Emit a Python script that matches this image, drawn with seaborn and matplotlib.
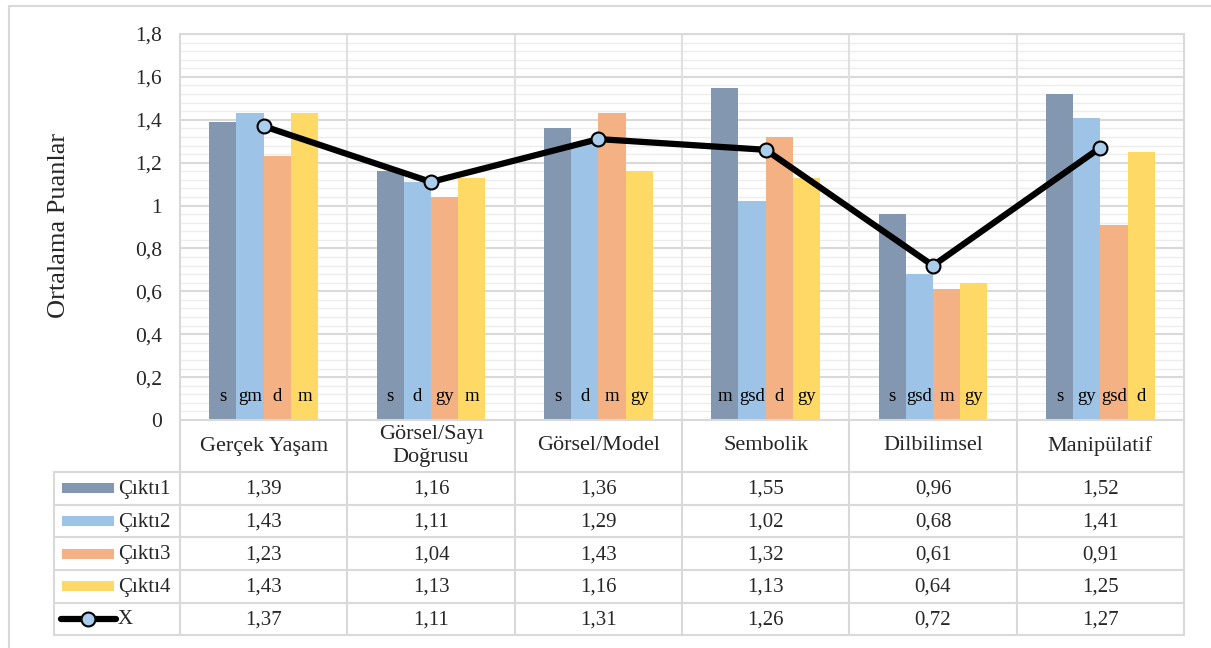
import numpy as np
import pandas as pd
import seaborn as sns
import matplotlib.pyplot as plt
from matplotlib.patches import Rectangle
from matplotlib.lines import Line2D

# data
categories = ["Gerçek Yaşam", "Görsel/Sayı\nDoğrusu", "Görsel/Model", "Sembolik", "Dilbilimsel", "Manipülatif"]
series = ["Çıktı1", "Çıktı2", "Çıktı3", "Çıktı4"]
cikti1 = [1.39, 1.16, 1.36, 1.55, 0.96, 1.52]
cikti2 = [1.43, 1.11, 1.29, 1.02, 0.68, 1.41]
cikti3 = [1.23, 1.04, 1.43, 1.32, 0.61, 0.91]
cikti4 = [1.43, 1.13, 1.16, 1.13, 0.64, 1.25]
x_mean = [1.37, 1.11, 1.31, 1.26, 0.72, 1.27]
bar_tags = [
    ["s", "gm", "d", "m"],
    ["s", "d", "gy", "m"],
    ["s", "d", "m", "gy"],
    ["m", "gsd", "d", "gy"],
    ["s", "gsd", "m", "gy"],
    ["s", "gy", "gsd", "d"],
]
colors = ["#8497B0", "#9DC3E6", "#F4B183", "#FFD966"]
grid_c = "#D9D9D9"

df = pd.DataFrame({
    "kategori": np.repeat(categories, 4),
    "cikti": series * len(categories),
    "puan": np.column_stack([cikti1, cikti2, cikti3, cikti4]).ravel(),
})

sns.set_theme(style="white")
plt.rcParams["font.family"] = ["Liberation Serif", "DejaVu Serif"]

W, H = 1211, 648
fig = plt.figure(figsize=(W / 100, H / 100), dpi=100)

# pixel overlay for frame + data table
ov = fig.add_axes([0, 0, 1, 1], zorder=0)
ov.set_xlim(0, W)
ov.set_ylim(H, 0)
ov.axis("off")

L, R, T, B = 180, 1184, 34, 420
ax = fig.add_axes([L / W, (H - B) / H, (R - L) / W, (B - T) / H], zorder=1)
ax.set_facecolor("none")

sns.barplot(data=df, x="kategori", y="puan", hue="cikti", order=categories,
            hue_order=series, palette=colors, width=0.65, gap=0, saturation=1,
            linewidth=0, legend=False, ax=ax, errorbar=None, zorder=2)

ax.plot(np.arange(len(categories)), x_mean, color="black", lw=4.5, marker="o",
        ms=10, mfc="#A9CDEB", mec="black", mew=1.5, zorder=4)

ax.set_ylim(0, 1.8)
ax.set_xlim(-0.5, len(categories) - 0.5)
yt = np.arange(0, 1.81, 0.2)
ax.set_yticks(yt)
ax.set_yticklabels([f"{v:.1f}".replace(".", ",").replace(",0", "") for v in yt], fontsize=15.5)
ax.set_yticks(np.arange(0, 1.8, 0.04), minor=True)
ax.tick_params(axis="y", length=0, pad=13, which="both")
ax.set_xticks([])
ax.set_xlabel("")
ax.set_ylabel("")
ax.grid(axis="y", which="major", color=grid_c, lw=1.5, zorder=0)
ax.grid(axis="y", which="minor", color="#EDEDED", lw=1, zorder=0)
ax.set_axisbelow(True)
for k in range(1, len(categories)):
    ax.axvline(k - 0.5, color="#E0E0E0", lw=1.5, zorder=1)
for s in ax.spines.values():
    s.set_color(grid_c)
    s.set_linewidth(1.5)

# letter tags inside bars
for j, cont in enumerate(ax.containers):
    for i, bar in enumerate(cont):
        ax.text(bar.get_x() + bar.get_width() / 2, 0.11, bar_tags[i][j],
                ha="center", va="center", fontsize=13.5, color="black", zorder=5)

fig.text(59 / W, 1 - 225 / H, "Ortalama Puanlar", rotation=90, ha="center",
         va="center", fontsize=19)

# outer frame
ov.plot([8.5, 8.5, W], [H, 5.5, 5.5], color=grid_c, lw=1.5)

# data table
col_edges = np.linspace(L, R, len(categories) + 1)
row_edges = [472, 504.7, 537.3, 570, 602.7, 635.3]
tab_left = 54
lw_t = 1.5
for x in col_edges:
    ov.plot([x, x], [B, row_edges[-1]], color=grid_c, lw=lw_t)
ov.plot([tab_left, tab_left], [row_edges[0], row_edges[-1]], color=grid_c, lw=lw_t)
for y in row_edges:
    ov.plot([tab_left, R], [y, y], color=grid_c, lw=lw_t)

centers = (col_edges[:-1] + col_edges[1:]) / 2
for cx, name in zip(centers, categories):
    ov.text(cx, 446, name, ha="center", va="center", fontsize=16, linespacing=1.35)

rows = [cikti1, cikti2, cikti3, cikti4, x_mean]
names = series + ["X"]
for r, (vals, nm) in enumerate(zip(rows, names)):
    cy = (row_edges[r] + row_edges[r + 1]) / 2
    for cx, v in zip(centers, vals):
        ov.text(cx, cy + 1, f"{v:.2f}".replace(".", ","), ha="center", va="center", fontsize=15)
    if r < 4:
        ov.add_patch(Rectangle((62, cy - 5), 52, 10, color=colors[r], lw=0))
    else:
        ov.add_line(Line2D([61, 116], [cy, cy], color="black", lw=4.5, solid_capstyle="round"))
        ov.plot([88], [cy], marker="o", ms=10, mfc="#A9CDEB", mec="black", mew=1.5)
    ov.text(118, cy + 1, nm, ha="left", va="center", fontsize=15)

fig.savefig("out.png", dpi=100, facecolor="white")
